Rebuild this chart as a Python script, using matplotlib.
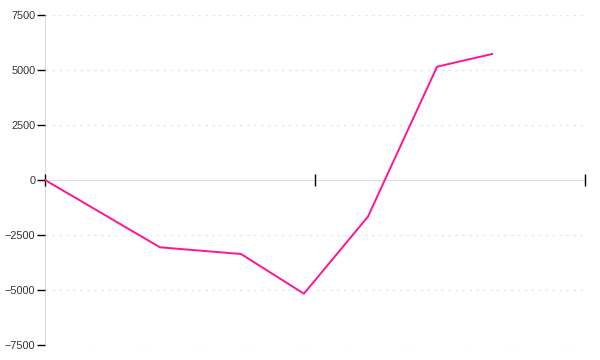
import matplotlib
matplotlib.use("Agg")
import matplotlib.pyplot as plt

x_values = [0.0, 0.426, 0.726, 0.959, 1.196, 1.452, 1.656]
y_values = [0, -3060, -3364, -5168, -1668, 5150, 5727]
y_ticks = [-7500, -5000, -2500, 0, 2500, 5000, 7500]
x_ticks = [0, 1, 2]

fig = plt.figure(figsize=(6, 3.6), dpi=100)
ax = fig.add_axes([0.075, 15/360, 0.9, 330/360])
ax.set_xlim(0, 2)
ax.set_ylim(-7500, 7500)

for t in y_ticks:
    if t != 0:
        ax.axhline(t, color="#e8e8e8", lw=1, ls=(0, (2, 3)), zorder=0)

ax.plot(x_values, y_values, color="#ff1493", lw=1.4, zorder=3)

for s in ["top", "right"]:
    ax.spines[s].set_visible(False)
for s in ["left", "bottom"]:
    ax.spines[s].set_color("#dddddd")
    ax.spines[s].set_zorder(1)
ax.spines["bottom"].set_position(("data", 0))

ax.set_yticks(y_ticks)
ax.set_yticklabels([f"{v}".replace("-", "\u2212") for v in y_ticks],
                   fontfamily="Liberation Sans", fontsize=7.8, color="#333333")
ax.tick_params(axis="y", direction="out", length=6, width=1, color="black", pad=1)
ax.set_xticks(x_ticks)
ax.set_xticklabels([])
ax.tick_params(axis="x", direction="inout", length=8, width=1, color="black")
for t in ax.xaxis.get_major_ticks() + ax.yaxis.get_major_ticks():
    t.tick1line.set_zorder(5)

fig.savefig("out.png", dpi=100)
